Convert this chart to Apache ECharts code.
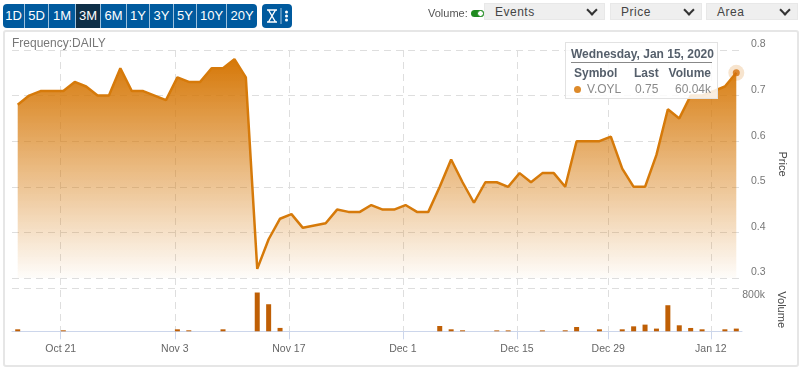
<!DOCTYPE html>
<html>
<head>
<meta charset="utf-8">
<script src="https://cdn.jsdelivr.net/npm/echarts@6/dist/echarts.min.js"></script>
<style>
  html, body { margin: 0; padding: 0; background: #fff; font-family: "Liberation Sans", Arial, sans-serif; }
  #page { position: relative; width: 800px; height: 368px; overflow: hidden; }
  #card { position: absolute; left: 3px; top: 30px; width: 792px; height: 333px; border: 2px solid #e6e6e6; border-radius: 3px; }
  #chart { position: absolute; left: 0; top: 0; width: 800px; height: 368px; }
  .group { position: absolute; top: 4px; height: 24px; background: #005a9e; border-radius: 4px; display: flex; }
  .group span { display: block; height: 24px; line-height: 24px; text-align: center; color: #fff; font-size: 13px; box-sizing: border-box; border-right: 1px solid #9dc0dc; }
  .group span:last-child { border-right: 0; }
  .group span.on { background: #0e2f47; }
  .drop { position: absolute; top: 3px; height: 17px; line-height: 16px; background: #efefef; color: #444; font-size: 12px; letter-spacing: .5px; box-sizing: border-box; padding-left: 10px; border: 1px solid #e8e8e8; }
  .drop i { position: absolute; right: 8px; top: 2px; width: 6px; height: 6px; border-right: 2px solid #333; border-bottom: 2px solid #333; transform: rotate(45deg); }
  #volLabel { position: absolute; left: 428px; top: 7px; font-size: 11px; color: #555; }
  #toggle { position: absolute; left: 471px; top: 10px; width: 13px; height: 7px; border-radius: 4px; background: #1f8a1f; }
  #toggle b { position: absolute; right: 0; top: 0; width: 7px; height: 7px; border-radius: 50%; background: #fff; box-sizing: border-box; border: 1px solid #1f8a1f; }
  .tipHead { font-weight: bold; font-size: 12px; color: #555f6b; text-align: center; border-bottom: 1px solid #888; padding-bottom: 1px; margin-bottom: 2px; line-height: 14px; white-space: nowrap; }
  .tipRow { position: relative; height: 16px; line-height: 16px; font-size: 12px; }
  .tipRow em { position: absolute; top: 0; font-style: normal; white-space: nowrap; }
</style>
</head>
<body>
<div id="page">
  <div id="card"></div>
  <div id="chart"></div>
  <div class="group" style="left:3px;width:254px">
    <span style="width:22px">1D</span><span style="width:24px">5D</span><span style="width:27px">1M</span><span class="on" style="width:25px">3M</span><span style="width:26px">6M</span><span style="width:23px">1Y</span><span style="width:24px">3Y</span><span style="width:23px">5Y</span><span style="width:30px">10Y</span><span style="width:30px">20Y</span>
  </div>
  <div class="group" style="left:262px;width:30px">
    <svg width="30" height="24">
      <path d="M5 6h10M5 18h10M6.5 6l7 12M13.5 6l-7 12" stroke="#fff" stroke-width="1.4" fill="none"/>
      <path d="M19 4v16" stroke="#9dc0dc" stroke-width="1"/>
      <circle cx="24.5" cy="8" r="1.5" fill="#fff"/><circle cx="24.5" cy="12" r="1.5" fill="#fff"/><circle cx="24.5" cy="16" r="1.5" fill="#fff"/>
    </svg>
  </div>
  <div id="volLabel">Volume:</div>
  <div id="toggle"><b></b></div>
  <div class="drop" style="left:484px;width:121px">Events<i></i></div>
  <div class="drop" style="left:610px;width:92px">Price<i></i></div>
  <div class="drop" style="left:706px;width:92px">Area<i></i></div>
</div>
<script>
var dates = ["Oct 15","Oct 16","Oct 17","Oct 18","Oct 21","Oct 22","Oct 23","Oct 24","Oct 25","Oct 28","Oct 29","Oct 30","Oct 31","Nov 1","Nov 4","Nov 5","Nov 6","Nov 7","Nov 8","Nov 11","Nov 12","Nov 13","Nov 14","Nov 15","Nov 18","Nov 19","Nov 20","Nov 21","Nov 22","Nov 25","Nov 26","Nov 27","Nov 28","Nov 29","Dec 2","Dec 3","Dec 4","Dec 5","Dec 6","Dec 9","Dec 10","Dec 11","Dec 12","Dec 13","Dec 16","Dec 17","Dec 18","Dec 19","Dec 20","Dec 23","Dec 24","Dec 27","Dec 30","Dec 31","Jan 2","Jan 3","Jan 6","Jan 7","Jan 8","Jan 9","Jan 10","Jan 13","Jan 14","Jan 15"];
var price = [0.68,0.70,0.71,0.71,0.71,0.73,0.72,0.70,0.70,0.76,0.71,0.71,0.70,0.69,0.74,0.73,0.73,0.76,0.76,0.78,0.74,0.32,0.385,0.43,0.44,0.41,0.415,0.42,0.45,0.445,0.445,0.46,0.45,0.45,0.46,0.445,0.445,0.50,0.56,0.51,0.465,0.51,0.51,0.50,0.53,0.51,0.53,0.53,0.50,0.60,0.60,0.60,0.61,0.54,0.50,0.50,0.57,0.67,0.65,0.70,0.70,0.71,0.72,0.75];
// volume in thousands
var volume = [44,0,0,0,22,0,0,0,0,0,0,0,0,0,44,22,0,0,44,0,0,860,600,75,0,0,0,0,0,0,0,0,0,0,0,0,0,118,44,22,0,0,20,20,0,0,20,0,22,95,0,44,0,44,110,148,60,578,133,74,44,0,44,60.04];
var tickIndex = [4,14,24,34,44,52,61];
var tickLabels = ["Oct 21","Nov 3","Nov 17","Dec 1","Dec 15","Dec 29","Jan 12"];
var tipDate = "Wednesday, Jan 15, 2020";
var symbol = "V.OYL";

var lastIndex = price.length - 1;
var lastPoint = [[lastIndex, price[lastIndex]]];
var dashed = { color: "#dedede", width: 1, type: [7, 5] };
var myChart = echarts.init(document.getElementById("chart"), null, { renderer: "canvas" });

function isTick(i) {
  return tickIndex.indexOf(i) >= 0;
}

var option = {
  animation: false,
  title: {
    text: "Frequency:DAILY",
    left: 12,
    top: 38,
    padding: 0,
    textStyle: { color: "#777", fontSize: 12, fontWeight: "normal", fontFamily: "Liberation Sans" },
  },
  tooltip: {
    trigger: "item",
    position: [565, 42],
    padding: [4, 5, 1, 5],
    backgroundColor: "rgba(255,255,255,0.85)",
    borderColor: "#e2e2e2",
    borderWidth: 1,
    shadowBlur: 0,
    extraCssText: "box-shadow:none;width:141px;border-radius:0;",
    formatter: function () {
      return '<div class="tipHead">' + tipDate + "</div>" +
        '<div class="tipRow" style="font-weight:bold;color:#555f6b"><em style="left:3px">Symbol</em><em style="left:63px">Last</em><em style="right:1px">Volume</em></div>' +
        '<div class="tipRow" style="color:#8a8a8a"><em style="left:3px;top:5px;width:7px;height:7px;border-radius:50%;background:#dd8a2a"></em><em style="left:16px">' + symbol +
        '</em><em style="left:64px">' + price[lastIndex].toFixed(2) + '</em><em style="right:1px">' + volume[lastIndex].toFixed(2) + "k</em></div>";
    },
  },
  grid: [
    { left: 12, width: 730, top: 50, height: 228 },
    { left: 12, width: 730, top: 288, height: 43.3 },
    // date ticks sit 2px left of the points in the reference
    { left: 9.4, width: 730, top: 50, height: 281.3 },
  ],
  xAxis: [
    { gridIndex: 0, type: "category", data: dates, axisLine: { show: false }, axisTick: { show: false }, axisLabel: { show: false } },
    { gridIndex: 1, type: "category", data: dates, axisLine: { lineStyle: { color: "#ccd6eb" } }, axisTick: { show: false }, axisLabel: { show: false } },
    {
      gridIndex: 2,
      type: "category",
      data: dates,
      axisLine: { show: false },
      axisTick: { show: true, alignWithLabel: true, length: 8, lineStyle: { color: "#ccd6eb" }, interval: function (i) { return isTick(i); } },
      axisLabel: {
        interval: function (i) { return isTick(i); },
        formatter: function (v, i) { return tickLabels[tickIndex.indexOf(i)]; },
        color: "#666",
        fontSize: 10.5,
        margin: 12,
        fontFamily: "Liberation Sans",
      },
      splitLine: { show: true, alignWithLabel: true, interval: function (i) { return isTick(i); }, lineStyle: dashed },
    },
  ],
  yAxis: [
    {
      gridIndex: 0,
      type: "value",
      position: "right",
      min: 0.3,
      max: 0.8,
      interval: 0.1,
      name: "Price",
      nameLocation: "middle",
      nameRotate: -90,
      nameGap: 31,
      nameTextStyle: { color: "#444", fontSize: 11, fontFamily: "Liberation Sans" },
      axisLine: { show: false },
      axisTick: { show: false },
      axisLabel: { color: "#777", fontSize: 10.5, margin: 9, align: "left", verticalAlign: "bottom", fontFamily: "Liberation Sans", formatter: function (v) { return v.toFixed(1); } },
      splitLine: { lineStyle: dashed },
    },
    {
      gridIndex: 1,
      type: "value",
      position: "right",
      min: 0,
      max: 960,
      name: "Volume",
      nameLocation: "middle",
      nameRotate: -90,
      nameGap: 31,
      nameTextStyle: { color: "#444", fontSize: 11, fontFamily: "Liberation Sans" },
      axisLine: { show: false },
      axisTick: { show: false, customValues: [960] },
      axisLabel: { customValues: [800], color: "#777", fontSize: 10.5, margin: 23, align: "right", padding: [4, 0, 0, 0], formatter: "{value}k", fontFamily: "Liberation Sans" },
      splitLine: { show: true, lineStyle: dashed },
    },
    { gridIndex: 2, type: "value", show: false, min: 0, max: 1 },
  ],
  series: [
    {
      name: "Price",
      type: "line",
      xAxisIndex: 0,
      yAxisIndex: 0,
      data: price,
      symbol: "none",
      z: 3,
      lineStyle: { color: "#d67a0a", width: 2.5 },
      areaStyle: {
        origin: "start",
        opacity: 1,
        color: new echarts.graphic.LinearGradient(0, 0, 0, 1, [
          { offset: 0, color: "rgba(214,120,8,1)" },
          { offset: 1, color: "rgba(214,120,8,0.02)" },
        ]),
      },
      emphasis: { disabled: true },
    },
    {
      name: "Halo",
      type: "scatter",
      xAxisIndex: 0,
      yAxisIndex: 0,
      data: lastPoint,
      symbolSize: 16,
      z: 4,
      itemStyle: { color: "rgba(214,122,10,0.25)" },
      emphasis: { disabled: true },
    },
    {
      name: "Last",
      type: "scatter",
      xAxisIndex: 0,
      yAxisIndex: 0,
      data: lastPoint,
      symbolSize: 7,
      z: 5,
      itemStyle: { color: "#d4700a" },
      emphasis: { disabled: true },
    },
    {
      name: "Volume",
      type: "bar",
      xAxisIndex: 1,
      yAxisIndex: 1,
      data: volume,
      barWidth: 5,
      itemStyle: { color: "#bf5f05" },
      emphasis: { disabled: true },
    },
  ],
};

myChart.setOption(option);
myChart.dispatchAction({ type: "showTip", seriesIndex: 2, dataIndex: 0 });
</script>
</body>
</html>
